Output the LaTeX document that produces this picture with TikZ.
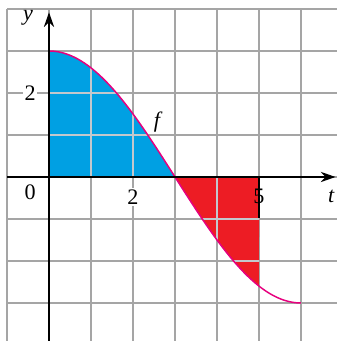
\documentclass[tikz,border=0pt]{standalone}
\usepackage{fontspec}
\setmainfont{Liberation Serif}
\usetikzlibrary{arrows.meta}
\definecolor{gridgray}{RGB}{165,165,165}
\definecolor{gridlight}{RGB}{195,200,205}
\definecolor{areablue}{RGB}{0,160,227}
\definecolor{areared}{RGB}{237,28,36}
\definecolor{curvepink}{RGB}{230,0,126}
\tikzset{
  gridline/.style={gridgray, line width=0.8pt},
  axisline/.style={black, line width=0.9pt},
  lab/.style={font=\fontsize{15}{18}\selectfont, inner sep=1pt},
  labbg/.style={lab, fill=white},
}
\begin{document}
\begin{tikzpicture}[x=1cm,y=1cm]
\useasboundingbox (-1.1667,-3.905) rectangle (6.857,4.214);
% grid
\foreach \yy in {-3,...,4} \draw[gridline] (-1,\yy) -- (6.857,\yy);
\foreach \xx in {-1,...,6} \draw[gridline] (\xx,-3.905) -- (\xx,4);
% areas
\fill[areablue] (0,0) -- plot[domain=0:3,samples=60] (\x,{3*cos(30*\x)}) -- cycle;
\fill[areared] (3,0) -- plot[domain=3:5,samples=40] (\x,{3*cos(30*\x)}) -- (5,0) -- cycle;
% grid lines over the areas
\begin{scope}
\clip (0,0) -- plot[domain=0:3,samples=60] (\x,{3*cos(30*\x)}) -- cycle;
\foreach \yy in {1,2} \draw[gridlight, line width=0.8pt] (0,\yy) -- (3,\yy);
\foreach \xx in {1,2} \draw[gridlight, line width=0.8pt] (\xx,0) -- (\xx,3);
\end{scope}
\begin{scope}
\clip (3,0) -- plot[domain=3:5,samples=40] (\x,{3*cos(30*\x)}) -- (5,0) -- cycle;
\foreach \yy in {-1,-2} \draw[gridlight, line width=0.8pt] (3,\yy) -- (5,\yy);
\draw[gridlight, line width=0.8pt] (4,0) -- (4,-3);
\end{scope}
% curve
\draw[curvepink, line width=1pt] plot[domain=0:6,samples=100] (\x,{3*cos(30*\x)});
% axes
\coordinate (xs) at (-1,0);
\coordinate (xe) at (6.82,0);
\coordinate (ys) at (0,-3.905);
\coordinate (ye) at (0,3.92);
\draw[axisline,-{Stealth[length=10pt,width=7pt]}] (xs) -- (xe);
\draw[axisline,-{Stealth[length=10pt,width=7pt]}] (ys) -- (ye);
% labels
\node[lab] (o) at (-0.45,-0.37) {0};
\node[labbg] (x2) at (2,-0.47) {2};
\node[lab] (x5) at (5,-0.47) {5};
\coordinate (t5a) at (5,0);
\coordinate (t5b) at (5,-0.98);
\draw[black, line width=0.8pt] (t5a) -- (t5b);
\node[lab] (t) at (6.72,-0.47) {\itshape t};
\node[lab] (y) at (-0.5,3.80) {\itshape y};
\node[labbg] (y2) at (-0.45,2.0) {2};
\node[lab] (f) at (2.57,1.31) {\itshape f};
\end{tikzpicture}
\end{document}
